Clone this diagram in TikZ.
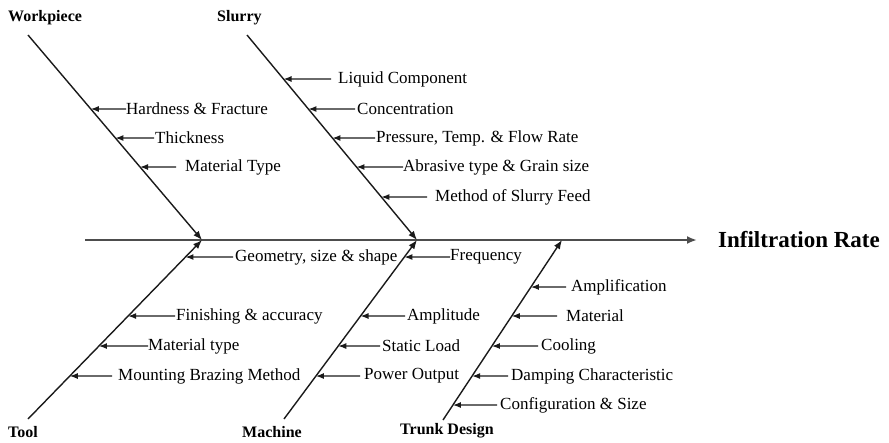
\documentclass[tikz,border=0pt]{standalone}
\usepackage{fontspec}
\setmainfont{Liberation Serif}
\usetikzlibrary{arrows.meta}
\definecolor{inkgray}{HTML}{1A1A1A}
\definecolor{spinegray}{HTML}{4D4D4D}

\begin{document}
\begin{tikzpicture}[x=1pt, y=-1pt,
  bone/.style={draw=inkgray, line width=1.4pt, -{Latex[length=9pt,width=7pt]}},
  spine/.style={draw=spinegray, line width=2pt, -{Latex[length=10pt,width=8pt]}},
  cause/.style={draw=inkgray, line width=1.2pt, -{Latex[length=8pt,width=6pt]}},
  lbl/.style={font=\fontsize{17}{20}\selectfont, inner sep=0pt, anchor=west},
  cat/.style={font=\fontsize{16}{19}\selectfont\bfseries, inner sep=0pt, anchor=west}]
  \useasboundingbox (0,0) rectangle (889,442);

  % spine and effect
  \coordinate (sp) at (85,240);
  \node[anchor=west, inner sep=0pt, font=\fontsize{23}{27}\selectfont\bfseries] (eff) at (718,240) {Infiltration Rate};
  \draw[spine] (sp) -- ([xshift=-21pt]eff.west);

  % bone ends
  \coordinate (j1) at (202,240);
  \coordinate (j2) at (417,240);
  \coordinate (j3) at (562,240);
  \coordinate (wp1) at (28,35);
  \coordinate (sl1) at (247,35);
  \coordinate (tl1) at (28,419);
  \coordinate (mc1) at (284,419);
  \coordinate (tr1) at (443,420);

  % categories
  \node[cat] (wp) at (8,18) {Workpiece};
  \node[cat] (sl) at (217,18) {Slurry};
  \node[cat] (tl) at (8,432) {Tool};
  \node[cat] (mc) at (242,432) {Machine};
  \node[cat] (tr) at (400,431) {Trunk Design};

  \draw[bone] (wp1) -- (j1);
  \draw[bone] (sl1) -- (j2);
  \draw[bone] (tl1) -- (j1);
  \draw[bone] (mc1) -- (j2);
  \draw[bone] (tr1) -- (j3);

  % causes: y / x / gap / text
  \foreach \y/\x/\g/\txt [count=\i] in {109/126/0/Hardness \& Fracture,
      138/155/1/Thickness, 167/185/9/Material Type}{
    \node[lbl] (wpc\i) at (\x,\y) {\txt};
    \draw[cause] ([xshift=-\g pt]wpc\i.west) -- (intersection of wp1--j1 and wpc\i.west--wpc\i.east);
  }
  \foreach \y/\x/\g/\txt [count=\i] in {79/338/7/Liquid Component,
      109/357/2/Concentration, 138/376/1/{Pressure, Temp. \& Flow Rate},
      167/403/0/Abrasive type \& Grain size, 197/435/8/Method of Slurry Feed}{
    \node[lbl] (slc\i) at (\x,\y) {\txt};
    \draw[cause] ([xshift=-\g pt]slc\i.west) -- (intersection of sl1--j2 and slc\i.west--slc\i.east);
  }
  \foreach \y/\x/\g/\txt [count=\i] in {257/235/2/{Geometry, size \& shape},
      316/176/1/Finishing \& accuracy, 346/148/0/Material type,
      376/118/6/Mounting Brazing Method}{
    \node[lbl] (tlc\i) at (\x,\y) {\txt};
    \draw[cause] ([xshift=-\g pt]tlc\i.west) -- (intersection of tl1--j1 and tlc\i.west--tlc\i.east);
  }
  \foreach \y/\x/\g/\txt [count=\i] in {257/450/0/Frequency,
      316/407/2/Amplitude, 346/382/2/Static Load, 376/364/4/Power Output}{
    \node[lbl] (mcc\i) at (\x,\y) {\txt};
    \draw[cause] ([xshift=-\g pt]mcc\i.west) -- (intersection of mc1--j2 and mcc\i.west--mcc\i.east);
  }
  \foreach \y/\x/\g/\txt [count=\i] in {287/571/5/Amplification,
      316/566/9/Material, 346/541/3/Cooling,
      376/511/3/Damping Characteristic, 405/500/3/Configuration \& Size}{
    \node[lbl] (trc\i) at (\x,\y) {\txt};
    \draw[cause] ([xshift=-\g pt]trc\i.west) -- (intersection of tr1--j3 and trc\i.west--trc\i.east);
  }
\end{tikzpicture}
\end{document}
